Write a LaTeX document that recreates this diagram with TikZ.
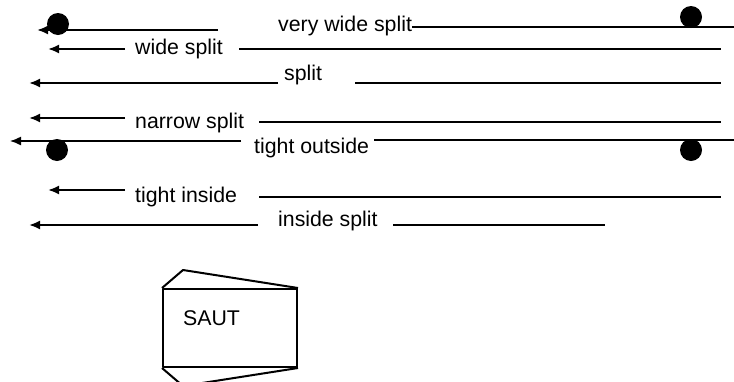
\documentclass[tikz,border=0pt]{standalone}
\usepackage{fontspec}
\setmainfont{Liberation Sans}
\usetikzlibrary{arrows.meta}
\begin{document}
\begin{tikzpicture}[x=1pt,y=-1pt,
  lbl/.style={anchor=base west, inner sep=0pt, font=\fontsize{21.3pt}{25pt}\selectfont},
  edge/.style={line width=2pt},
  thinedge/.style={line width=1.4pt},
  arr/.style={edge, -{Latex[length=11pt,width=9pt]}},
  thinarr/.style={thinedge, -{Latex[length=11pt,width=9pt]}},
  blob/.style={circle, fill=black, minimum size=22pt, inner sep=0pt},
  shapeline/.style={line width=2pt, line join=round}]
\useasboundingbox (0,0) rectangle (734,381);
\clip (0,0) rectangle (734,381);
% row 1: very wide split
\node[blob] (d1l) at (58,24) {};
\node[blob] (d1r) at (691,17) {};
\coordinate (r1a) at (37,30); \coordinate (r1b) at (218,30);
\draw[arr] (r1b) -- (r1a);
\node[lbl] (t1) at (278,31) {very wide split};
\coordinate (r1c) at (412,27); \coordinate (r1d) at (734,27);
\draw[edge] (r1c) -- (r1d);
% row 2: wide split
\coordinate (r2a) at (48,49); \coordinate (r2b) at (125,49);
\draw[arr] (r2b) -- (r2a);
\node[lbl] (t2) at (135,54) {wide split};
\coordinate (r2c) at (239,48.5); \coordinate (r2d) at (721,48.5);
\draw[edge] (r2c) -- (r2d);
% row 3: split
\coordinate (r3a) at (29,83); \coordinate (r3b) at (278,83);
\draw[arr] (r3b) -- (r3a);
\node[lbl] (t3) at (284,80) {split};
\coordinate (r3c) at (355,82.5); \coordinate (r3d) at (721,82.5);
\draw[edge] (r3c) -- (r3d);
% row 4: narrow split
\coordinate (r4a) at (29,118); \coordinate (r4b) at (125,118);
\draw[arr] (r4b) -- (r4a);
\node[lbl] (t4) at (135,128) {narrow split};
\coordinate (r4c) at (259,122); \coordinate (r4d) at (721,122);
\draw[edge] (r4c) -- (r4d);
% row 5: tight outside
\node[blob] (d5l) at (57,150) {};
\node[blob] (d5r) at (691,150) {};
\coordinate (r5a) at (10,141); \coordinate (r5b) at (241,141);
\draw[thinarr] (r5b) -- (r5a);
\node[lbl] (t5) at (254,153) {tight outside};
\coordinate (r5c) at (374,140); \coordinate (r5d) at (734,140);
\draw[thinedge] (r5c) -- (r5d);
% row 6: tight inside
\coordinate (r6a) at (48,190); \coordinate (r6b) at (125,190);
\draw[arr] (r6b) -- (r6a);
\node[lbl] (t6) at (135,202) {tight inside};
\coordinate (r6c) at (259,197); \coordinate (r6d) at (721,197);
\draw[edge] (r6c) -- (r6d);
% row 7: inside split
\coordinate (r7a) at (29,225); \coordinate (r7b) at (258,225);
\draw[arr] (r7b) -- (r7a);
\node[lbl] (t7) at (278,226) {inside split};
\coordinate (r7c) at (393,225); \coordinate (r7d) at (605,225);
\draw[edge] (r7c) -- (r7d);
% SAUT shape
\node[shapeline, draw, minimum width=134pt, minimum height=78pt, inner sep=0pt] (saut) at (230,328) {};
\node[lbl] (sautlbl) at (183,325) {SAUT};
\coordinate (topapex) at (183,270);
\coordinate (botapex) at (183,386);
\draw[shapeline] (saut.north west) -- (topapex) -- (saut.north east);
\draw[shapeline] (saut.south west) -- (botapex) -- (saut.south east);
\end{tikzpicture}
\end{document}
